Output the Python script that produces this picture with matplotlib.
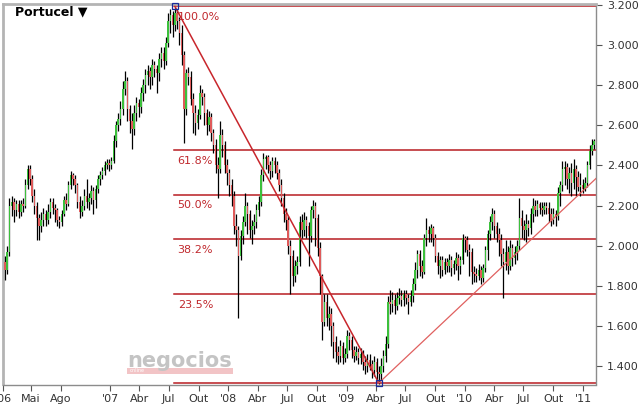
import datetime as dt
import numpy as np
import matplotlib
matplotlib.use("Agg")
import matplotlib.pyplot as plt
import matplotlib.dates as mdates
from matplotlib.patches import Rectangle

# ---------------- data ----------------
title = "Portucel \u25BC"
first_week = "2006-02-10"
first_open = 1.92

closes = [
    1.88, 1.97, 2.20, 2.22, 2.18, 2.21, 2.17, 2.21, 2.20, 2.30,
    2.38, 2.33, 2.25, 2.20, 2.14, 2.10, 2.13, 2.16, 2.13, 2.17,
    2.22, 2.19, 2.18, 2.13, 2.12, 2.16, 2.23, 2.21, 2.30, 2.35,
    2.33, 2.30, 2.22, 2.17, 2.20, 2.25, 2.22, 2.24, 2.27, 2.23,
    2.28, 2.33, 2.35, 2.37, 2.40, 2.41, 2.40, 2.42, 2.52, 2.60,
    2.63, 2.68, 2.78, 2.82, 2.68, 2.62, 2.58, 2.66, 2.71, 2.69,
    2.76, 2.80, 2.85, 2.87, 2.84, 2.90, 2.88, 2.86, 2.93, 2.96,
    2.92, 3.01, 3.12, 3.15, 3.10, 3.16, 3.12, 3.06, 2.95, 2.68,
    2.86, 2.84, 2.73, 2.66, 2.61, 2.65, 2.76, 2.74, 2.66, 2.60,
    2.64, 2.56, 2.50, 2.40, 2.38, 2.55, 2.50, 2.40, 2.36, 2.30,
    2.25, 2.10, 2.08, 1.95, 2.05, 2.12, 2.20, 2.16, 2.08, 2.10,
    2.12, 2.18, 2.22, 2.35, 2.43, 2.44, 2.40, 2.37, 2.42, 2.40,
    2.36, 2.30, 2.24, 2.16, 2.13, 2.00, 1.95, 1.85, 1.90, 1.92,
    2.12, 2.08, 2.13, 2.10, 2.05, 2.18, 2.20, 2.14, 1.99, 1.85,
    1.62, 1.72, 1.64, 1.66, 1.60, 1.52, 1.47, 1.45, 1.50, 1.44,
    1.46, 1.55, 1.53, 1.48, 1.45, 1.47, 1.44, 1.46, 1.42, 1.40,
    1.43, 1.41, 1.38, 1.42, 1.37, 1.36, 1.40, 1.45, 1.51, 1.72,
    1.71, 1.73, 1.70, 1.74, 1.75, 1.73, 1.76, 1.74, 1.72, 1.75,
    1.81, 1.88, 1.96, 1.90, 1.87, 2.04, 2.08, 2.06, 2.09, 2.04,
    1.95, 1.90, 1.93, 1.88, 1.92, 1.90, 1.93, 1.89, 1.91, 1.94,
    1.90, 1.93, 2.04, 2.03, 1.98, 1.97, 1.87, 1.86, 1.85, 1.88,
    1.84, 1.89, 1.98, 2.06, 2.12, 2.16, 2.10, 2.06, 2.03, 1.96,
    1.92, 1.97, 1.90, 1.99, 1.94, 1.97, 2.00, 2.14, 2.10, 2.08,
    2.11, 2.09, 2.16, 2.20, 2.18, 2.21, 2.19, 2.18, 2.20, 2.19,
    2.16, 2.13, 2.16, 2.15, 2.26, 2.30, 2.38, 2.39, 2.33, 2.36,
    2.31, 2.38, 2.34, 2.29, 2.30, 2.28, 2.31, 2.40, 2.47, 2.50,
    2.52,
]

highs = [
    1.95, 2.00, 2.24, 2.25, 2.24, 2.23, 2.23, 2.23, 2.24, 2.33,
    2.40, 2.40, 2.35, 2.28, 2.22, 2.16, 2.17, 2.19, 2.18, 2.21,
    2.24, 2.24, 2.21, 2.19, 2.15, 2.18, 2.25, 2.26, 2.32, 2.37,
    2.36, 2.35, 2.31, 2.25, 2.23, 2.28, 2.33, 2.26, 2.30, 2.29,
    2.30, 2.35, 2.37, 2.39, 2.42, 2.43, 2.43, 2.44, 2.55, 2.62,
    2.66, 2.72, 2.82, 2.87, 2.84, 2.70, 2.66, 2.70, 2.74, 2.73,
    2.79, 2.83, 2.88, 2.90, 2.89, 2.93, 2.92, 2.90, 2.96, 2.99,
    2.99, 3.04, 3.16, 3.18, 3.17, 3.19, 3.18, 3.14, 3.10, 2.97,
    2.88, 2.89, 2.87, 2.76, 2.70, 2.68, 2.80, 2.78, 2.76, 2.68,
    2.67, 2.66, 2.58, 2.53, 2.44, 2.62, 2.58, 2.52, 2.43, 2.38,
    2.33, 2.27, 2.16, 2.10, 2.08, 2.15, 2.26, 2.22, 2.18, 2.13,
    2.16, 2.21, 2.25, 2.38, 2.46, 2.45, 2.45, 2.42, 2.44, 2.44,
    2.42, 2.38, 2.33, 2.26, 2.19, 2.15, 2.03, 1.98, 1.93, 1.95,
    2.15, 2.16, 2.17, 2.15, 2.12, 2.20, 2.23, 2.22, 2.16, 2.02,
    1.86, 1.76, 1.76, 1.70, 1.69, 1.62, 1.55, 1.50, 1.53, 1.52,
    1.49, 1.58, 1.57, 1.55, 1.50, 1.50, 1.49, 1.49, 1.48, 1.45,
    1.46, 1.46, 1.43, 1.45, 1.44, 1.40, 1.44, 1.48, 1.55, 1.75,
    1.78, 1.77, 1.76, 1.77, 1.79, 1.78, 1.78, 1.78, 1.76, 1.78,
    1.84, 1.92, 1.98, 1.98, 1.93, 2.06, 2.14, 2.10, 2.11, 2.10,
    2.06, 1.97, 1.95, 1.95, 1.94, 1.94, 1.96, 1.95, 1.93, 1.97,
    1.96, 1.95, 2.06, 2.05, 2.05, 2.01, 1.99, 1.90, 1.89, 1.91,
    1.90, 1.91, 2.00, 2.08, 2.15, 2.19, 2.18, 2.12, 2.09, 2.06,
    1.99, 2.03, 2.00, 2.03, 2.01, 2.00, 2.03, 2.24, 2.18, 2.13,
    2.16, 2.13, 2.19, 2.24, 2.23, 2.23, 2.22, 2.22, 2.22, 2.22,
    2.22, 2.19, 2.19, 2.18, 2.29, 2.32, 2.42, 2.42, 2.41, 2.39,
    2.41, 2.43, 2.40, 2.37, 2.36, 2.33, 2.34, 2.42, 2.50, 2.53,
    2.53,
]

lows = [
    1.83, 1.86, 1.95, 2.15, 2.12, 2.15, 2.14, 2.15, 2.17, 2.19,
    2.28, 2.30, 2.22, 2.16, 2.03, 2.03, 2.07, 2.10, 2.10, 2.11,
    2.14, 2.16, 2.12, 2.10, 2.09, 2.10, 2.15, 2.18, 2.20, 2.28,
    2.30, 2.26, 2.19, 2.14, 2.15, 2.18, 2.19, 2.18, 2.21, 2.16,
    2.19, 2.26, 2.30, 2.33, 2.35, 2.38, 2.37, 2.38, 2.41, 2.49,
    2.57, 2.60, 2.65, 2.75, 2.62, 2.56, 2.48, 2.55, 2.62, 2.64,
    2.66, 2.72, 2.76, 2.80, 2.78, 2.80, 2.84, 2.76, 2.82, 2.89,
    2.88, 2.90, 2.99, 3.06, 3.04, 3.07, 3.08, 3.00, 2.90, 2.51,
    2.65, 2.80, 2.70, 2.56, 2.55, 2.58, 2.63, 2.70, 2.60, 2.55,
    2.57, 2.52, 2.46, 2.36, 2.24, 2.36, 2.44, 2.36, 2.30, 2.25,
    2.20, 2.06, 2.00, 1.64, 1.93, 2.01, 2.10, 2.06, 2.04, 2.01,
    2.06, 2.09, 2.15, 2.20, 2.32, 2.38, 2.36, 2.33, 2.34, 2.36,
    2.33, 2.27, 2.20, 2.12, 2.08, 1.96, 1.76, 1.80, 1.82, 1.86,
    1.90, 2.04, 2.05, 2.04, 1.90, 2.02, 2.14, 2.00, 1.95, 1.76,
    1.53, 1.60, 1.60, 1.58, 1.50, 1.44, 1.42, 1.41, 1.42, 1.41,
    1.42, 1.44, 1.48, 1.44, 1.42, 1.43, 1.41, 1.41, 1.38, 1.36,
    1.37, 1.38, 1.34, 1.35, 1.33, 1.31, 1.33, 1.37, 1.42, 1.49,
    1.66, 1.67, 1.66, 1.68, 1.71, 1.70, 1.70, 1.71, 1.66, 1.70,
    1.72, 1.78, 1.84, 1.85, 1.84, 1.86, 2.00, 2.02, 2.02, 2.00,
    1.92, 1.86, 1.84, 1.85, 1.86, 1.87, 1.87, 1.85, 1.86, 1.88,
    1.83, 1.86, 1.91, 1.97, 1.95, 1.85, 1.81, 1.82, 1.82, 1.83,
    1.81, 1.82, 1.87, 1.93, 2.03, 2.08, 2.04, 2.02, 1.95, 1.90,
    1.74, 1.88, 1.86, 1.88, 1.90, 1.91, 1.93, 1.98, 2.04, 2.03,
    2.02, 2.05, 2.06, 2.12, 2.15, 2.15, 2.16, 2.15, 2.16, 2.16,
    2.12, 2.10, 2.11, 2.10, 2.13, 2.20, 2.27, 2.30, 2.28, 2.26,
    2.25, 2.28, 2.25, 2.27, 2.25, 2.26, 2.27, 2.29, 2.38, 2.45,
    2.48,
]

tick_dates = ["2006-02-04", "2006-05-01", "2006-08-01", "2007-01-01", "2007-04-01",
              "2007-07-01", "2007-10-01", "2008-01-01", "2008-04-01", "2008-07-01",
              "2008-10-01", "2009-01-01", "2009-04-01", "2009-07-01", "2009-10-01",
              "2010-01-01", "2010-04-01", "2010-07-01", "2010-10-01", "2011-01-01"]
tick_labels = ["'06", "Mai", "Ago", "'07", "Abr", "Jul", "Out", "'08", "Abr", "Jul",
               "Out", "'09", "Abr", "Jul", "Out", "'10", "Abr", "Jul", "Out", "'11"]
y_ticks = [1.4, 1.6, 1.8, 2.0, 2.2, 2.4, 2.6, 2.8, 3.0, 3.2]

fib_high = 3.193
fib_low = 1.315
fib_ratios = [1.0, 0.618, 0.5, 0.382, 0.235, 0.0]
fib_labels = ["100.0%", "61.8%", "50.0%", "38.2%", "23.5%", ""]
peak_date = "2007-07-20"
trough_date = "2009-04-10"
support_end_date = "2011-02-10"
support_end_price = 2.335

x_start = "2006-02-05"
x_end = "2011-02-10"

# ---------------- derived ----------------
def dn(s):
    return mdates.date2num(dt.datetime.strptime(s, "%Y-%m-%d"))

n = len(closes)
t0 = dn(first_week)
xs = np.array([t0 + 7 * i for i in range(n)])
c = np.array(closes)
o = np.array([first_open] + closes[:-1])
h = np.maximum(np.array(highs), np.maximum(o, c))
l = np.minimum(np.array(lows), np.minimum(o, c))
up = c >= o

W, H = 639, 412
fig = plt.figure(figsize=(W / 100, H / 100), dpi=100)
ax_left, ax_right, ax_top, ax_bot = 3, 596, 4, 384.5
ax = fig.add_axes([ax_left / W, (H - ax_bot) / H, (ax_right - ax_left) / W, (ax_bot - ax_top) / H])

ax.set_xlim(dn(x_start), dn(x_end))
ax.set_ylim(1.3075, 3.205)

# watermark
fig.text(127 / W, 1 - 361 / H, "negocios", fontsize=15, fontweight="bold",
         color="#c4c4c4", va="center", ha="left", family="DejaVu Sans", zorder=0)
fig.patches.append(Rectangle((127 / W, 1 - 374 / H), 106 / W, 6 / H,
                             transform=fig.transFigure, facecolor="#f2c4c6",
                             edgecolor="none", zorder=0))
fig.text(130 / W, 1 - 371 / H, "online", fontsize=3.5, color="white",
         va="center", ha="left")

# fib lines
fib_col = "#b81c22"
for r, lab in zip(fib_ratios, fib_labels):
    yv = fib_low + r * (fib_high - fib_low)
    ax.plot([dn(peak_date) - 3, dn(x_end)], [yv, yv], color=fib_col, lw=1.1, zorder=2)
    if lab:
        ax.annotate(lab, (dn(peak_date), yv), xytext=(2, -4), textcoords="offset points",
                    fontsize=8, color="#c0282d", va="top", ha="left", zorder=5)

# trend lines
ax.plot([dn(peak_date), dn(trough_date)], [fib_high, fib_low], color="#c8262c", lw=1.1, zorder=4)
ax.plot([dn(trough_date), dn(support_end_date)], [fib_low, support_end_price],
        color="#e0605f", lw=0.9, zorder=4)

# candles
ax.vlines(xs, l, h, color="black", lw=0.9, zorder=3)
body_w = 4.6
bot = np.minimum(o, c)
hgt = np.maximum(np.abs(c - o), 0.006)
ax.bar(xs[up], hgt[up], bottom=bot[up], width=body_w, color="#3cc03c", edgecolor="none", zorder=3.5)
ax.bar(xs[~up], hgt[~up], bottom=bot[~up], width=body_w, color="#df5a5a", edgecolor="none", zorder=3.5)

# markers at peak and trough
ax.plot([dn(peak_date), dn(trough_date)], [fib_high, fib_low], ls="none", marker="s",
        ms=4.5, mfc="none", mec="#1a2a9a", mew=0.9, zorder=6, clip_on=False)

# axes styling
ax.yaxis.tick_right()
ax.set_yticks(y_ticks)
ax.set_yticklabels([f"{v:.3f}" for v in y_ticks])
ax.set_xticks([dn(s) for s in tick_dates])
ax.set_xticklabels(tick_labels)
ax.tick_params(axis="both", which="both", direction="out", length=4, width=0.8,
               color="#555555", labelsize=8, labelcolor="#333333")
ax.tick_params(axis="y", pad=4)
ax.tick_params(axis="x", pad=3)
for side in ["left", "top"]:
    ax.spines[side].set_color("#b4b4b4")
    ax.spines[side].set_linewidth(2)
for side in ["right", "bottom"]:
    ax.spines[side].set_color("#8c8c8c")
    ax.spines[side].set_linewidth(1)

fig.text(15 / W, 1 - 12 / H, title, fontsize=9, fontweight="bold", color="black",
         va="center", ha="left")

fig.savefig("out.png", dpi=100)
